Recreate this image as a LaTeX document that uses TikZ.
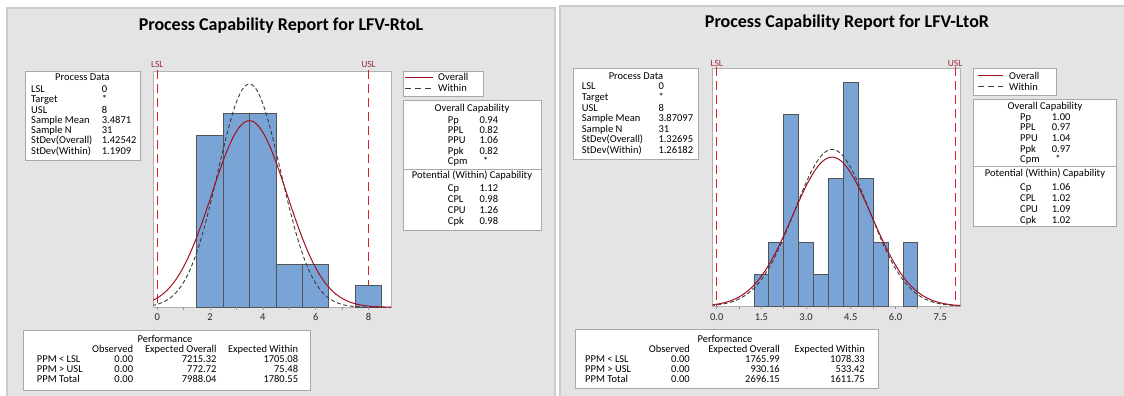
\documentclass[tikz,border=0pt]{standalone}
\usepackage{fontspec}
\setmainfont{Carlito}
\definecolor{panelbg}{RGB}{228,228,228}
\definecolor{panelline}{RGB}{204,204,204}
\definecolor{boxline}{RGB}{168,168,168}
\definecolor{plotline}{RGB}{176,176,176}
\definecolor{barfill}{RGB}{123,164,214}
\definecolor{baredge}{RGB}{84,84,84}
\definecolor{overallc}{RGB}{160,16,32}
\definecolor{withinc}{RGB}{60,60,60}
\definecolor{specc}{RGB}{222,30,40}
\definecolor{speclabc}{RGB}{160,40,60}
\definecolor{tickc}{RGB}{150,150,150}
\definecolor{ticklab}{RGB}{40,40,40}
\begin{document}
\begin{tikzpicture}[x=1pt,y=-1pt,
  txt/.style={inner sep=0pt,font=\fontsize{10.5}{12}\selectfont,text height=6.8pt,text depth=0pt},
  ttl/.style={inner sep=0pt,anchor=base,font=\fontsize{18}{20}\selectfont\bfseries},
  panel/.style={fill=panelbg,draw=panelline,line width=1.2pt},
  box/.style={fill=white,draw=boxline,line width=0.8pt},
  plotbox/.style={fill=white,draw=plotline,line width=1pt},
  bar/.style={fill=barfill,draw=baredge,line width=0.9pt},
  overall/.style={draw=overallc,line width=1pt},
  within/.style={draw=withinc,line width=0.9pt,dash pattern=on 4pt off 2.5pt},
  spec/.style={draw=specc,line width=1pt,dash pattern=on 9pt off 5pt},
  speclab/.style={txt,text=speclabc,font=\fontsize{9.5}{11}\selectfont},
  tick/.style={draw=tickc,line width=0.8pt},
  ticktxt/.style={txt,text=ticklab,font=\fontsize{10.5}{12}\selectfont},
]
\useasboundingbox (0,0) rectangle (1124,396);
\fill[white] (0,0) rectangle (1124,396);

% ================= LEFT PANEL =================
\draw[panel] (7,8) rectangle (555,402);
\node[ttl] (t1) at (281,31) {Process Capability Report for LFV-RtoL};

% process data
\draw[box] (25,71.7) rectangle (140,160);
\node[txt] (pd1h) at (82.5,77.3) {Process Data};
\foreach \l/\v [count=\i from 0] in {LSL/0,Target/*,USL/8,Sample Mean/3.4871,Sample N/31,StDev(Overall)/1.42542,StDev(Within)/1.1909}{
  \node[txt,anchor=west] (pd1l\i) at (31,{89.3+10.25*\i}) {\l};
  \node[txt,anchor=west] (pd1v\i) at (101.7,{89.3+10.25*\i}) {\v};
}

% plot
\draw[plotbox] (153,72) rectangle (391,307.3);
\draw[spec] (157.3,70) -- (157.3,307.3);
\draw[spec] (368.5,70) -- (368.5,307.3);
\node[speclab] (lsl1) at (157.3,64.5) {LSL};
\node[speclab] (usl1) at (368.5,64.5) {USL};
\foreach \a/\n in {1.5/8,2.5/9,3.5/9,4.5/2,5.5/2,7.5/1}{
  \draw[bar] ({157.3+26.4*\a},307.3) rectangle ({157.3+26.4*(\a+1)},{307.3-21.5*\n});
}
\begin{scope}
  \clip (153,72) rectangle (391,307.3);
  \draw[within] plot[domain=-0.2:8.9,samples=200,smooth] ({157.3+26.4*\x},{307.3-21.5*31/(1.1909*2.506628)*exp(-((\x-3.4871)^2)/(2*1.1909*1.1909))});
  \draw[overall] plot[domain=-0.2:8.9,samples=200,smooth] ({157.3+26.4*\x},{307.3-21.5*31/(1.42542*2.506628)*exp(-((\x-3.4871)^2)/(2*1.42542*1.42542))});
\end{scope}
\foreach \k in {0,...,8}{
  \draw[tick] ({157.3+26.4*\k},307.3) -- ({157.3+26.4*\k},310.3);
}
\foreach \k in {0,2,4,6,8}{
  \node[ticktxt] (xl1\k) at ({157.3+26.4*\k},317.5) {\k};
}

% legend
\draw[box] (403,71.7) rectangle (483,96.7);
\draw[overall] (405,77.3) -- (433,77.3);
\node[txt,anchor=west] (lg1o) at (438,77.3) {Overall};
\draw[withinc,line width=0.9pt,dash pattern=on 6pt off 4pt] (405,88.3) -- (433,88.3);
\node[txt,anchor=west] (lg1w) at (438,88.3) {Within};

% capability
\draw[box] (403,100.7) rectangle (541.7,230);
\draw[boxline,line width=0.8pt] (403,169.3) -- (541.7,169.3);
\node[txt] (oc1h) at (472,107.7) {Overall Capability};
\foreach \l/\v [count=\i from 0] in {Pp/0.94,PPL/0.82,PPU/1.06,Ppk/0.82,Cpm/{\,\,*}}{
  \node[txt,anchor=west] (oc1l\i) at (447.7,{120+10.25*\i}) {\l};
  \node[txt,anchor=west] (oc1v\i) at (479.3,{120+10.25*\i}) {\v};
}
\node[txt] (wc1h) at (472,175.5) {Potential (Within) Capability};
\foreach \l/\v [count=\i from 0] in {Cp/1.12,CPL/0.98,CPU/1.26,Cpk/0.98}{
  \node[txt,anchor=west] (wc1l\i) at (447.7,{188.3+10.8*\i}) {\l};
  \node[txt,anchor=west] (wc1v\i) at (479.3,{188.3+10.8*\i}) {\v};
}

% performance
\draw[box] (23.3,330) rectangle (310,390);
\node[txt] (pf1h) at (165,339) {Performance};
\node[txt,anchor=east] (pf1c1) at (133.3,349.5) {Observed};
\node[txt,anchor=east] (pf1c2) at (216.7,349.5) {Expected Overall};
\node[txt,anchor=east] (pf1c3) at (298.3,349.5) {Expected Within};
\foreach \l/\a/\b/\c [count=\i from 0] in {PPM < LSL/0.00/7215.32/1705.08,PPM > USL/0.00/772.72/75.48,PPM Total/0.00/7988.04/1780.55}{
  \node[txt,anchor=west] (pf1l\i) at (36.7,{359.3+10*\i}) {\l};
  \node[txt,anchor=east] (pf1a\i) at (133.3,{359.3+10*\i}) {\a};
  \node[txt,anchor=east] (pf1b\i) at (216.7,{359.3+10*\i}) {\b};
  \node[txt,anchor=east] (pf1d\i) at (298.3,{359.3+10*\i}) {\c};
}

% ================= RIGHT PANEL =================
\draw[panel] (560,6) rectangle (1130,402);
\node[ttl] (t2) at (847,27.5) {Process Capability Report for LFV-LtoR};

% process data
\draw[box] (573.3,68.3) rectangle (698.3,159.3);
\node[txt] (pd2h) at (636,75.7) {Process Data};
\foreach \l/\v [count=\i from 0] in {LSL/0,Target/*,USL/8,Sample Mean/3.87097,Sample N/31,StDev(Overall)/1.32695,StDev(Within)/1.26182}{
  \node[txt,anchor=west] (pd2l\i) at (581.7,{86.5+10.6*\i}) {\l};
  \node[txt,anchor=west] (pd2v\i) at (658.3,{86.5+10.6*\i}) {\v};
}

% plot
\draw[plotbox] (712.7,68.3) rectangle (960,306.3);
\draw[spec] (716.7,67) -- (716.7,306.3);
\draw[spec] (955.1,67) -- (955.1,306.3);
\node[speclab] (lsl2) at (716.7,62.7) {LSL};
\node[speclab] (usl2) at (955.1,62.7) {USL};
\foreach \a/\n in {1.25/1,1.75/2,2.25/6,2.75/2,3.25/1,3.75/4,4.25/7,4.75/4,5.25/2,6.25/2}{
  \draw[bar] ({716.7+29.8*\a},306.3) rectangle ({716.7+29.8*(\a+0.5)},{306.3-32*\n});
}
\begin{scope}
  \clip (712.7,68.3) rectangle (960,306.3);
  \draw[within] plot[domain=-0.2:8.2,samples=200,smooth] ({716.7+29.8*\x},{306.3-32*15.5/(1.26182*2.506628)*exp(-((\x-3.87097)^2)/(2*1.26182*1.26182))});
  \draw[overall] plot[domain=-0.2:8.2,samples=200,smooth] ({716.7+29.8*\x},{306.3-32*15.5/(1.32695*2.506628)*exp(-((\x-3.87097)^2)/(2*1.32695*1.32695))});
\end{scope}
\foreach \k in {0,...,10}{
  \draw[tick] ({716.7+29.8*0.75*\k},306.3) -- ({716.7+29.8*0.75*\k},309.3);
}
\foreach \k/\t in {0/0.0,1.5/1.5,3/3.0,4.5/4.5,6/6.0,7.5/7.5}{
  \node[ticktxt] (xl2\t) at ({716.7+29.8*\k},317) {\t};
}

% legend
\draw[box] (973.3,68.3) rectangle (1056,95);
\draw[overall] (978,75.7) -- (1003,75.7);
\node[txt,anchor=west] (lg2o) at (1009,75.7) {Overall};
\draw[withinc,line width=0.9pt,dash pattern=on 6pt off 4pt] (978,86.7) -- (1003,86.7);
\node[txt,anchor=west] (lg2w) at (1009,86.7) {Within};

% capability
\draw[box] (973.3,99) rectangle (1116,226.7);
\draw[boxline,line width=0.8pt] (973.3,166.7) -- (1116,166.7);
\node[txt] (oc2h) at (1045,105.7) {Overall Capability};
\foreach \l/\v [count=\i from 0] in {Pp/1.00,PPL/0.97,PPU/1.04,Ppk/0.97,Cpm/{\,\,*}}{
  \node[txt,anchor=west] (oc2l\i) at (1020,{116.7+10.65*\i}) {\l};
  \node[txt,anchor=west] (oc2v\i) at (1051.7,{116.7+10.65*\i}) {\v};
}
\node[txt] (wc2h) at (1045,173.3) {Potential (Within) Capability};
\foreach \l/\v [count=\i from 0] in {Cp/1.06,CPL/1.02,CPU/1.09,Cpk/1.02}{
  \node[txt,anchor=west] (wc2l\i) at (1020,{186.7+11.1*\i}) {\l};
  \node[txt,anchor=west] (wc2v\i) at (1051.7,{186.7+11.1*\i}) {\v};
}

% performance
\draw[box] (575,329) rectangle (878.3,388);
\node[txt] (pf2h) at (725,339) {Performance};
\node[txt,anchor=east] (pf2c1) at (690,349.5) {Observed};
\node[txt,anchor=east] (pf2c2) at (780,349.5) {Expected Overall};
\node[txt,anchor=east] (pf2c3) at (865,349.5) {Expected Within};
\foreach \l/\a/\b/\c [count=\i from 0] in {PPM < LSL/0.00/1765.99/1078.33,PPM > USL/0.00/930.16/533.42,PPM Total/0.00/2696.15/1611.75}{
  \node[txt,anchor=west] (pf2l\i) at (585,{359.3+10*\i}) {\l};
  \node[txt,anchor=east] (pf2a\i) at (690,{359.3+10*\i}) {\a};
  \node[txt,anchor=east] (pf2b\i) at (780,{359.3+10*\i}) {\b};
  \node[txt,anchor=east] (pf2d\i) at (865,{359.3+10*\i}) {\c};
}
\end{tikzpicture}
\end{document}
